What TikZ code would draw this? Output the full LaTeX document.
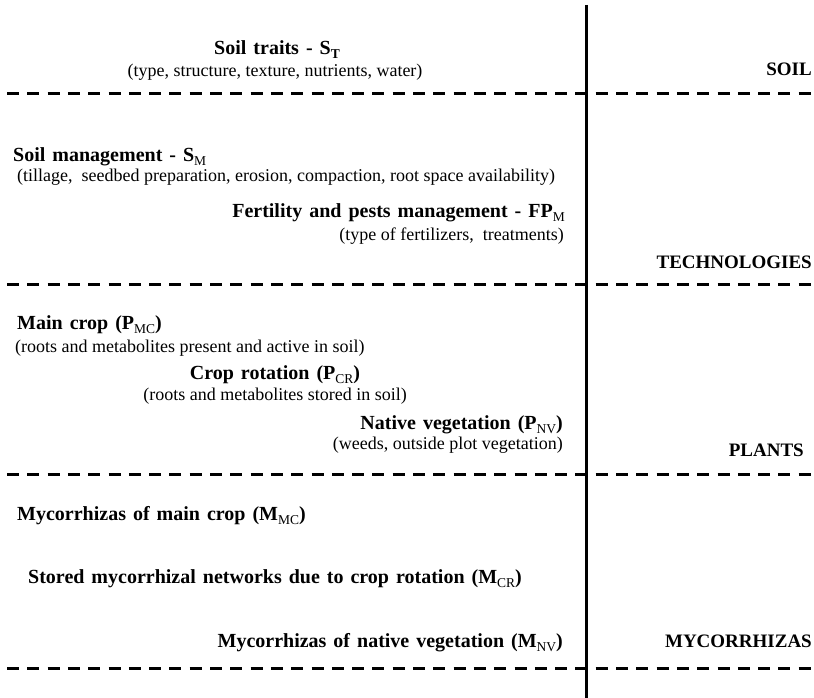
\documentclass[tikz,border=0pt]{standalone}
\usepackage{fontspec}
\setmainfont{Liberation Serif}
\newcommand{\subx}[1]{\raisebox{-0.2em}{\fontsize{13.5pt}{14pt}\selectfont\mdseries #1}}
\begin{document}
\begin{tikzpicture}[x=1pt,y=-1pt,
  head/.style={inner sep=0pt, font=\fontsize{20pt}{24pt}\selectfont\bfseries,
    execute at begin node={\spaceskip=0.35em\relax}},
  subt/.style={inner sep=0pt, font=\fontsize{18pt}{21pt}\selectfont},
  zone/.style={inner sep=0pt, font=\fontsize{19pt}{23pt}\selectfont\bfseries},
  sepline/.style={line width=3pt, dash pattern=on 12pt off 8.3pt},
  axisline/.style={line width=3pt}]
\useasboundingbox (0,0) rectangle (814,698);
% separators
\coordinate (d1a) at (7,94);  \coordinate (d1b) at (814,94);
\coordinate (d2a) at (7,284); \coordinate (d2b) at (814,284);
\coordinate (d3a) at (7,474); \coordinate (d3b) at (814,474);
\coordinate (d4a) at (7,668); \coordinate (d4b) at (814,668);
\coordinate (vt) at (586.5,5); \coordinate (vb) at (586.5,698);
\draw[sepline] (d1a) -- (d1b);
\draw[sepline] (d2a) -- (d2b);
\draw[sepline] (d3a) -- (d3b);
\draw[sepline] (d4a) -- (d4b);
\draw[axisline] (vt) -- (vb);
% SOIL
\node[head, anchor=base] (st) at (277,55) {Soil traits - S\subx{\bfseries T}};
\node[subt, anchor=base] (stsub) at (275,77) {(type, structure, texture, nutrients, water)};
\node[zone, anchor=base east] (soil) at (812,76) {SOIL};
% TECHNOLOGIES
\node[head, anchor=base west] (sm) at (13,161) {Soil management - S\subx{M}};
\node[subt, anchor=base west] (smsub) at (17,182) {(tillage,\ \ seedbed preparation, erosion, compaction, root space availability)};
\node[head, anchor=base east] (fp) at (565,217) {Fertility and pests management - FP\subx{M}};
\node[subt, anchor=base east] (fpsub) at (564,240) {(type of fertilizers,\ \ treatments)};
\node[zone, anchor=base east] (tech) at (812,268) {TECHNOLOGIES};
% PLANTS
\node[head, anchor=base west] (mc) at (17,329) {Main crop (P\subx{MC})};
\node[subt, anchor=base west] (mcsub) at (15,352) {(roots and metabolites present and active in soil)};
\node[head, anchor=base] (cr) at (275,379) {Crop rotation (P\subx{CR})};
\node[subt, anchor=base] (crsub) at (275,400) {(roots and metabolites stored in soil)};
\node[head, anchor=base east] (nv) at (563,429) {Native vegetation (P\subx{NV})};
\node[subt, anchor=base east] (nvsub) at (563,449) {(weeds, outside plot vegetation)};
\node[zone, anchor=base east] (plants) at (804,456) {PLANTS};
% MYCORRHIZAS
\node[head, anchor=base west] (mmc) at (17,520) {Mycorrhizas of main crop (M\subx{MC})};
\node[head, anchor=base west] (mcr) at (28,583) {Stored mycorrhizal networks due to crop rotation (M\subx{CR})};
\node[head, anchor=base east] (mnv) at (563,647) {Mycorrhizas of native vegetation (M\subx{NV})};
\node[zone, anchor=base east] (myco) at (812,647) {MYCORRHIZAS};
\end{tikzpicture}
\end{document}
